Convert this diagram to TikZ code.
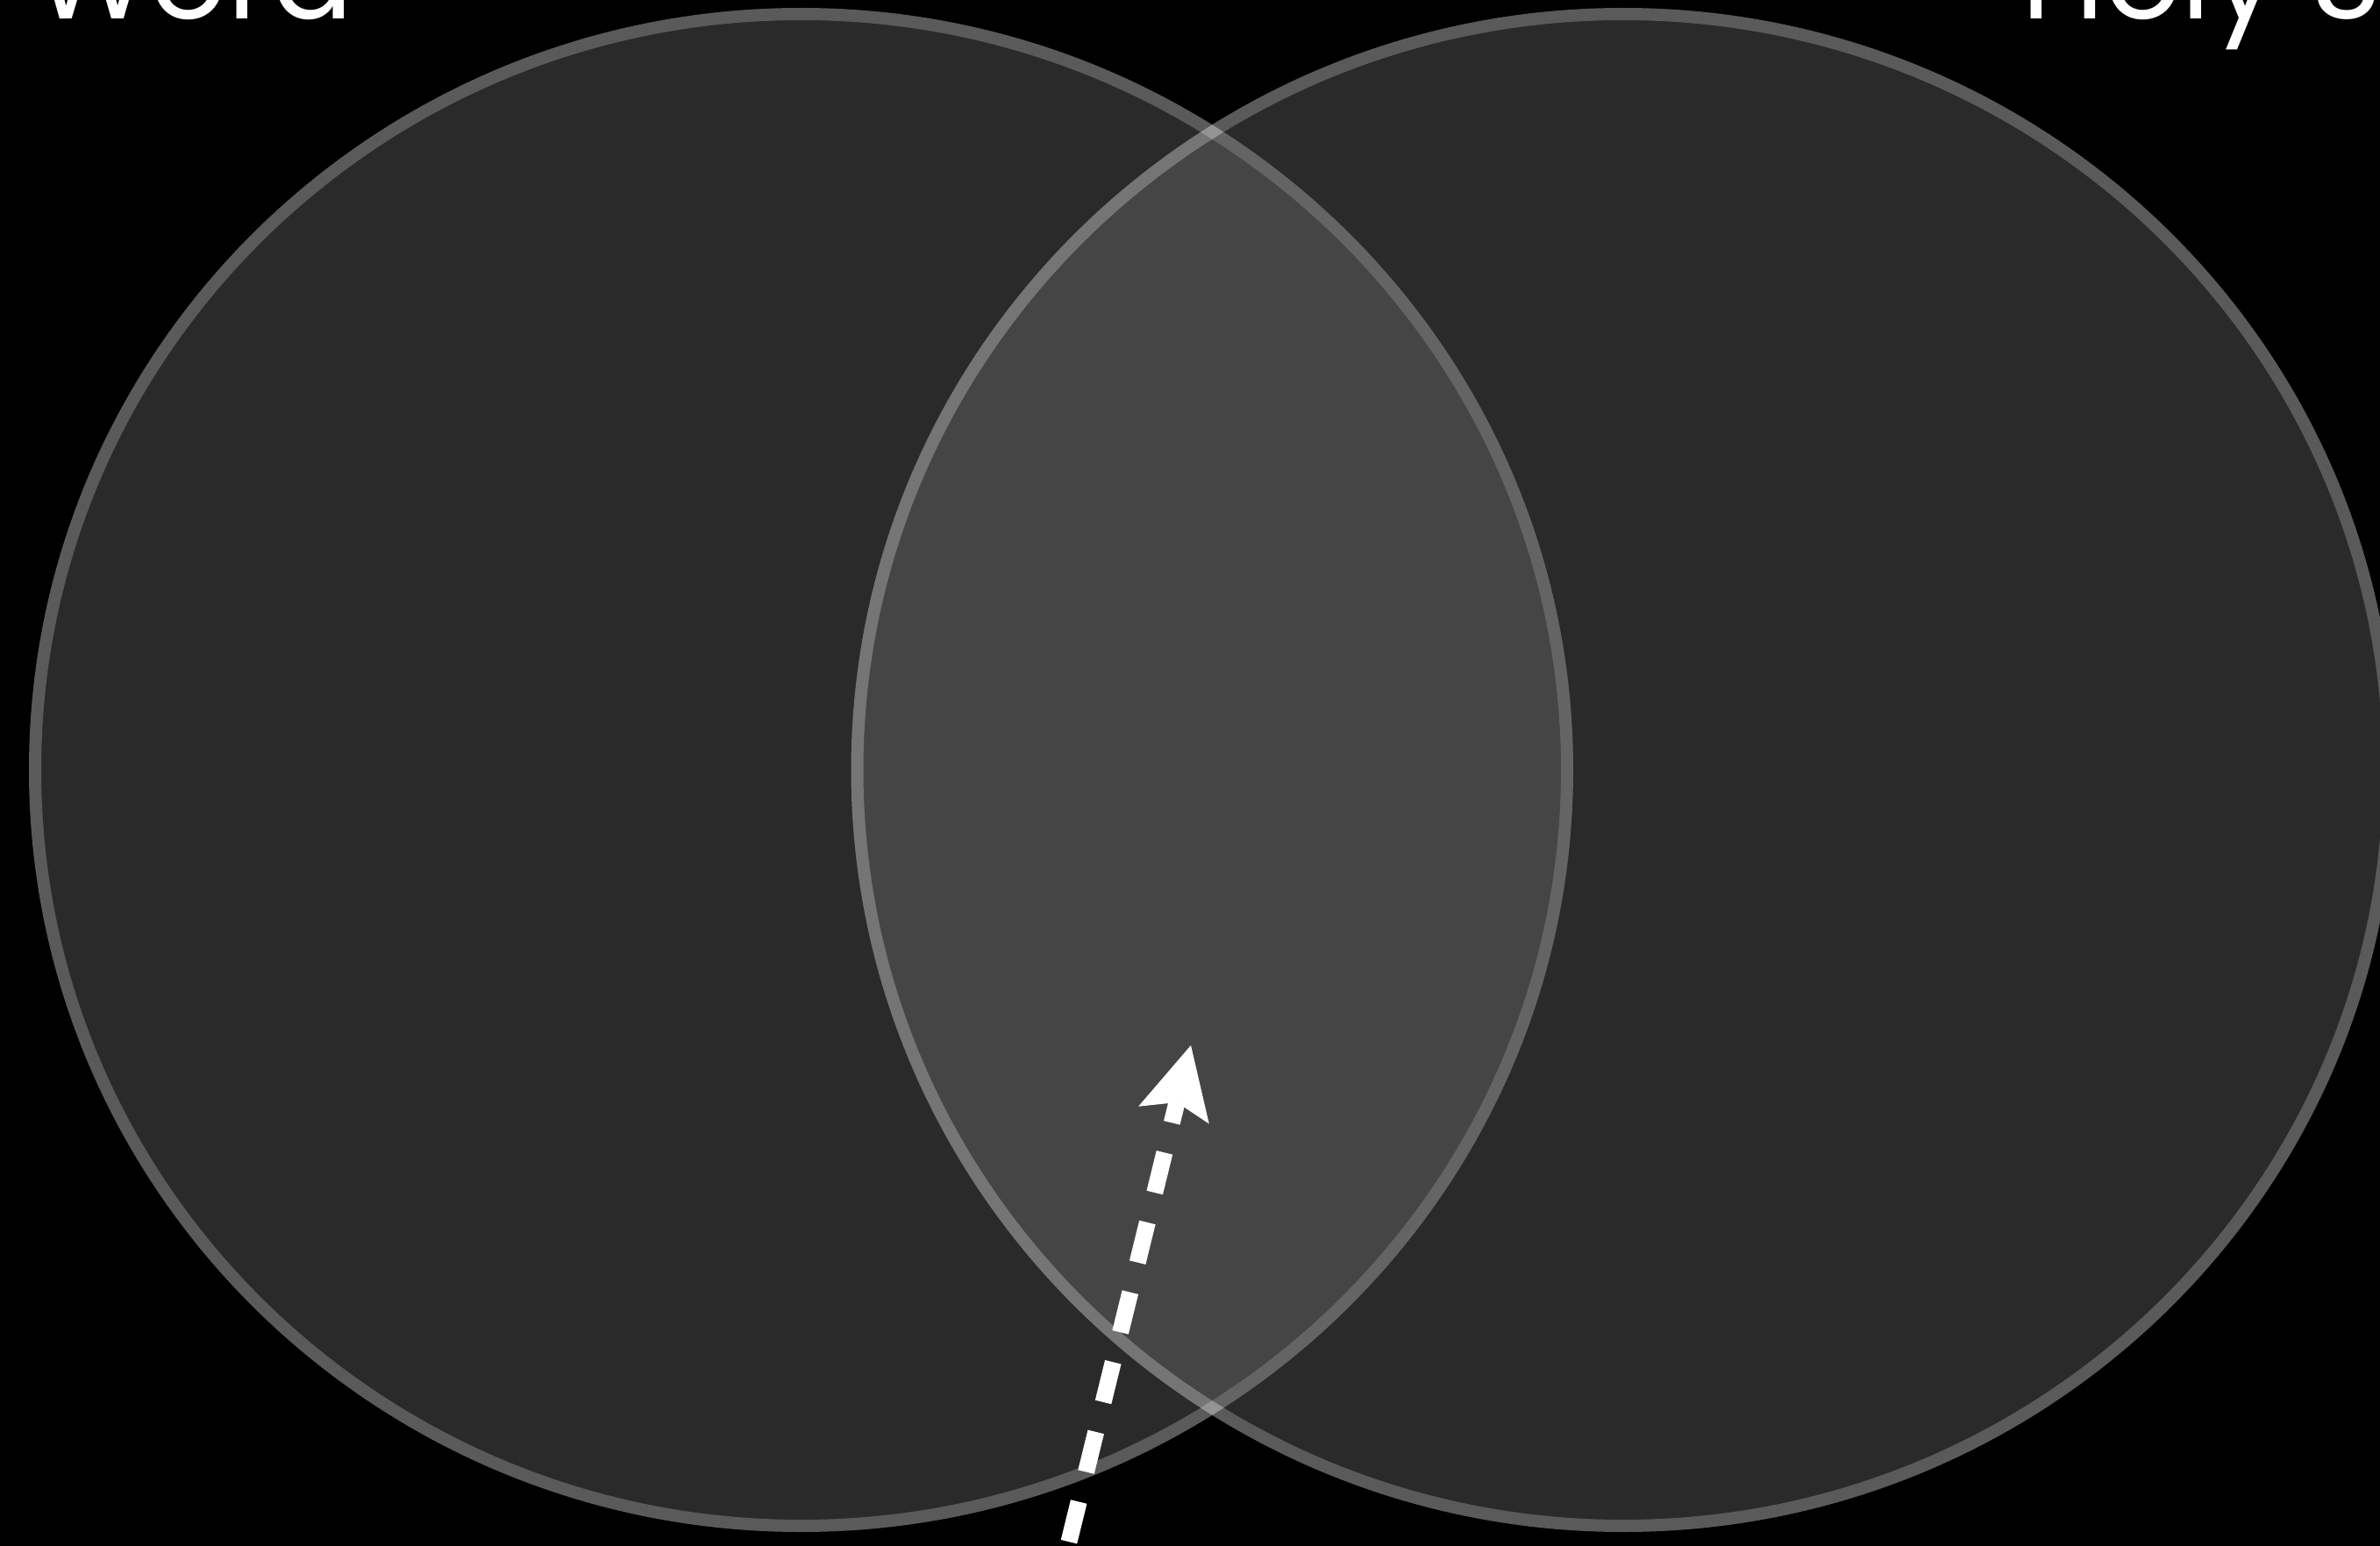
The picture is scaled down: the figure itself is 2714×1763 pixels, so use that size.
\documentclass[tikz,border=0pt]{standalone}
\usepackage{fontspec}
\setmainfont{Poppins}
\usetikzlibrary{arrows.meta}
\definecolor{ringfill}{RGB}{119,119,119}
\tikzset{
  ring/.style={line width=14pt, draw=white, fill=ringfill},
  label/.style={text=white, font=\fontsize{137}{150}\selectfont, inner sep=0pt, anchor=base west},
  flow/.style={white, line width=19pt, dash pattern=on 47pt off 35pt, dash phase=23pt,
    {Stealth[length=82pt, width=83pt, inset=15pt, line width=0pt]}-}
}
\begin{document}
\begin{tikzpicture}[x=1pt, y=-1pt]
\fill[black] (0,0) rectangle (2714,1763);
\useasboundingbox (0,0) rectangle (2714,1763);
\begin{scope}[transparency group, opacity=0.353]
  \draw[ring] (913.5,878) ellipse [x radius=873.5pt, y radius=862pt];
\end{scope}
\begin{scope}[transparency group, opacity=0.353]
  \draw[ring] (1851,878) ellipse [x radius=873.5pt, y radius=862pt];
\end{scope}
\node[label] (word) at (38,22) {Word};
\node[label] (holy) at (2305,22) {Holy Spirit};
\coordinate (tip) at (1358,1192);
\coordinate (tail) at (1191,1872);
\draw[flow] (tip) -- (tail);
\end{tikzpicture}
\end{document}
